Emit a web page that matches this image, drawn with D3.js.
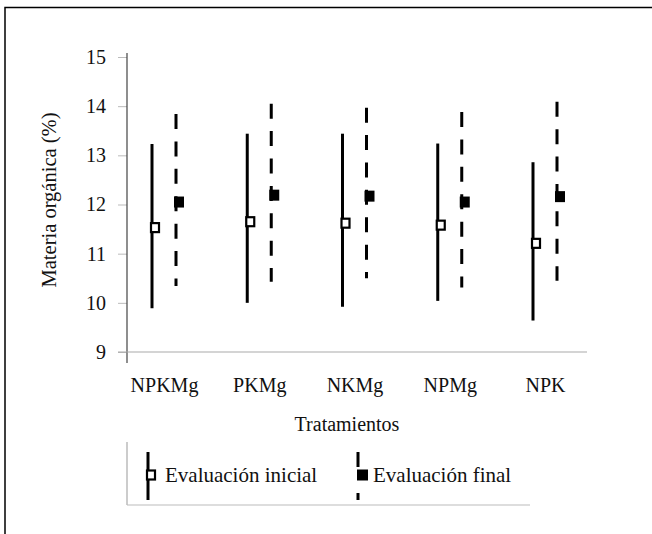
<!DOCTYPE html>
<html><head><meta charset="utf-8">
<script src="https://cdn.jsdelivr.net/npm/d3@7"></script>
<style>body{margin:0;background:#fff}svg{display:block}</style>
</head><body>
<svg id="c" width="652" height="534"></svg>
<script>
const categories = ["NPKMg","PKMg","NKMg","NPMg","NPK"];
const inicialHigh = [13.23,13.44,13.44,13.24,12.86];
const inicialLow  = [9.89,10.00,9.92,10.04,9.64];
const inicialMean = [11.53,11.65,11.62,11.58,11.21];
const finalHigh = [13.84,14.05,13.97,13.88,14.09];
const finalLow  = [10.34,10.43,10.50,10.31,10.45];
const finalMean = [12.05,12.19,12.17,12.05,12.16];
const yTicks = [9,10,11,12,13,14,15];
const seriesNames = ["Evaluación inicial","Evaluación final"];

const FONT = "'Liberation Serif','Times New Roman','DejaVu Serif',serif";
const svg = d3.select("#c");
function styleText(sel, size){ sel.style("font-family",FONT).style("font-size",size+"px").attr("fill","#111"); return sel; }

// outer frame
svg.append("rect").attr("x",5).attr("y",7.5).attr("width",700).attr("height",600)
  .attr("fill","none").attr("stroke","#000").attr("stroke-width",1.5);

const y = d3.scaleLinear().domain([9,15]).range([352,57]);
const x = d3.scalePoint().domain(categories).range([164,545]);
const off = d3.scalePoint().domain(["inicial","final"]).range([-12,12]);

// axes
const yAxis = svg.append("g").attr("transform","translate(127,0)")
  .call(d3.axisLeft(y).tickValues(yTicks).tickSize(9).tickPadding(12).tickFormat(d3.format("d")));
yAxis.select(".domain").remove();
yAxis.selectAll(".tick line").attr("stroke","#bbb");
styleText(yAxis.selectAll(".tick text"),20);
svg.append("line").attr("x1",127).attr("x2",127).attr("y1",53).attr("y2",363)
  .attr("stroke","#444").attr("stroke-width",1.2);
svg.append("line").attr("x1",118).attr("x2",587).attr("y1",y(9)).attr("y2",y(9))
  .attr("stroke","#aaa").attr("stroke-width",1.2);

const xAxis = svg.append("g").attr("transform","translate(0,352)")
  .call(d3.axisBottom(x).tickSize(0).tickPadding(26));
xAxis.select(".domain").remove();
styleText(xAxis.selectAll(".tick text"),20);

// axis titles
styleText(svg.append("text").attr("x",347).attr("y",431).attr("text-anchor","middle"),20).text("Tratamientos");
styleText(svg.append("text").attr("transform","translate(56,200) rotate(-90)").attr("text-anchor","middle"),20.5).text("Materia orgánica (%)");

const dash = "15,12.4";
const g = svg.append("g");
categories.forEach((c,i)=>{
  const xi = x(c)+off("inicial");
  g.append("line").attr("x1",xi).attr("x2",xi).attr("y1",y(inicialHigh[i])).attr("y2",y(inicialLow[i]))
    .attr("stroke","#000").attr("stroke-width",3);
  g.append("rect").attr("x",xi-1).attr("y",y(inicialMean[i])-4.5).attr("width",8).attr("height",9)
    .attr("fill","#fff").attr("stroke","#000").attr("stroke-width",2.2);
  const xf = x(c)+off("final");
  g.append("line").attr("x1",xf).attr("x2",xf).attr("y1",y(finalHigh[i])).attr("y2",y(finalLow[i]))
    .attr("stroke","#000").attr("stroke-width",3).attr("stroke-dasharray",dash);
  g.append("rect").attr("x",xf-2).attr("y",y(finalMean[i])-5.5).attr("width",10).attr("height",11)
    .attr("fill","#000");
});

// legend
svg.append("line").attr("x1",127).attr("x2",127).attr("y1",442).attr("y2",505).attr("stroke","#aaa").attr("stroke-width",1.2);
svg.append("line").attr("x1",127).attr("x2",530).attr("y1",505).attr("y2",505).attr("stroke","#bbb").attr("stroke-width",1.2);
const lg = svg.append("g");
lg.append("line").attr("x1",148).attr("x2",148).attr("y1",452).attr("y2",500).attr("stroke","#000").attr("stroke-width",3);
lg.append("rect").attr("x",147).attr("y",470.5).attr("width",8).attr("height",9).attr("fill","#fff").attr("stroke","#000").attr("stroke-width",2.2);
styleText(lg.append("text").attr("x",165).attr("y",482),21).text(seriesNames[0]);
lg.append("line").attr("x1",358).attr("x2",358).attr("y1",452).attr("y2",500).attr("stroke","#000").attr("stroke-width",3).attr("stroke-dasharray","15,26");
lg.append("rect").attr("x",357).attr("y",469.5).attr("width",11).attr("height",11).attr("fill","#000");
styleText(lg.append("text").attr("x",373).attr("y",482),21).text(seriesNames[1]);
</script>
</body></html>
